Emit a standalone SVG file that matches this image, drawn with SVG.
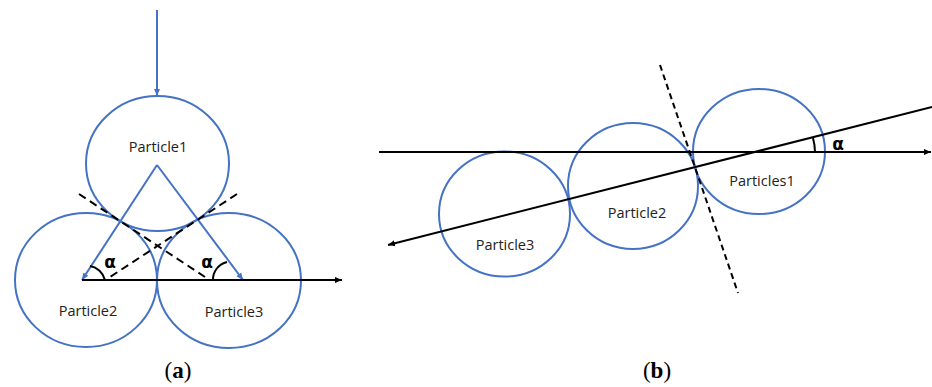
<svg xmlns="http://www.w3.org/2000/svg" width="932" height="387" viewBox="0 0 932 387">
<style>
.p{fill:none;stroke:#4472C4;stroke-width:2}
.bl{fill:none;stroke:#4472C4;stroke-width:2}
.k{fill:none;stroke:#000;stroke-width:2}
.d{fill:none;stroke:#000;stroke-width:2;stroke-dasharray:8 5}
.t{font-family:"Open Sans","Liberation Sans",sans-serif;font-size:14.5px;fill:#222;text-anchor:middle}
.a{font-family:"DejaVu Sans","Liberation Sans",sans-serif;font-size:17px;font-weight:bold;fill:#000;text-anchor:middle}
.c{font-family:"Liberation Serif",serif;font-size:23px;fill:#000;text-anchor:middle}
</style>
<defs>
<marker id="ab" markerUnits="userSpaceOnUse" markerWidth="8" markerHeight="8" refX="7" refY="4" orient="auto"><path d="M0,1 L7,4 L0,7 Z" fill="#4472C4"/></marker>
<marker id="ak" markerUnits="userSpaceOnUse" markerWidth="8" markerHeight="8" refX="7" refY="4" orient="auto"><path d="M0,1 L7,4 L0,7 Z" fill="#000"/></marker>
</defs>
<g id="particle1a"><ellipse class="p" cx="157.5" cy="163.5" rx="71.5" ry="67.5"/><text class="t" x="158" y="152">Particle1</text></g>
<g id="particle2a"><ellipse class="p" cx="86" cy="280" rx="71" ry="67"/><text class="t" x="88" y="316">Particle2</text></g>
<g id="particle3a"><ellipse class="p" cx="229" cy="280.5" rx="72" ry="67.5"/><text class="t" x="234" y="317">Particle3</text></g>
<g id="particle3b"><ellipse class="p" cx="504.5" cy="214" rx="65.5" ry="62.5"/><text class="t" x="505" y="250">Particle3</text></g>
<g id="particle2b"><ellipse class="p" cx="633" cy="186" rx="65" ry="63"/><text class="t" x="637" y="218">Particle2</text></g>
<g id="particles1b"><ellipse class="p" cx="759" cy="151.5" rx="66" ry="62.5"/><text class="t" x="762" y="186">Particles1</text></g>
<g id="connectors">
<line class="bl" x1="157" y1="10" x2="157" y2="96" marker-end="url(#ab)"/>
<line class="bl" x1="157" y1="165" x2="82" y2="280" marker-end="url(#ab)"/>
<line class="bl" x1="157" y1="165" x2="243" y2="280" marker-end="url(#ab)"/>
<line class="k" x1="82" y1="280" x2="342" y2="280" marker-end="url(#ak)"/>
<line class="d" x1="79" y1="194" x2="205" y2="277"/>
<line class="d" x1="237" y1="194" x2="110" y2="277"/>
<path class="k" d="M105,280 A19 19 0 0 0 90,266"/>
<path class="k" d="M213,280 A18 18 0 0 1 227,262"/>
<line class="k" x1="379" y1="152" x2="931" y2="152" marker-end="url(#ak)"/>
<line class="k" x1="932" y1="107" x2="388" y2="245" marker-end="url(#ak)"/>
<line class="d" x1="660" y1="65" x2="738" y2="293" style="stroke-dasharray:6 4"/>
<path class="k" d="M815,152 A58 58 0 0 0 813,138"/>
</g>
<text class="a" x="110" y="268">α</text>
<text class="a" x="207" y="268">α</text>
<text class="a" x="838" y="150">α</text>
<text class="c" x="178" y="378">(<tspan font-weight="bold">a</tspan>)</text>
<text class="c" x="657" y="378">(<tspan font-weight="bold">b</tspan>)</text>
</svg>
